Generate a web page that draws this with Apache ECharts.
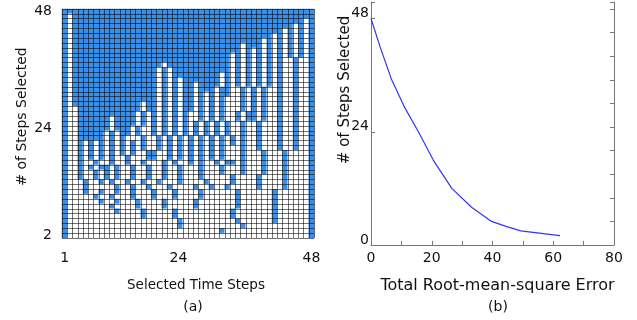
<!DOCTYPE html>
<html>
<head>
<meta charset="utf-8">
<script src="https://cdn.jsdelivr.net/npm/echarts@6/dist/echarts.min.js"></script>
<style>
html, body { margin: 0; padding: 0; background: #fff; }
#main { width: 637px; height: 320px; }
</style>
</head>
<body>
<div id="main"></div>
<script>
// time steps (columns) and step counts (rows) of panel (a)
var timeSteps = ['1','2','3','4','5','6','7','8','9','10','11','12','13','14','15','16',
    '17','18','19','20','21','22','23','24','25','26','27','28','29','30','31','32',
    '33','34','35','36','37','38','39','40','41','42','43','44','45','46','47','48'];
var stepCounts = ['2','3','4','5','6','7','8','9','10','11','12','13','14','15','16','17',
    '18','19','20','21','22','23','24','25','26','27','28','29','30','31','32','33',
    '34','35','36','37','38','39','40','41','42','43','44','45','46','47','48'];

// one string per row, 48 selected steps (top) down to 2 (bottom); 1 = selected
// (written as columns 1-17 | 18-33 | 34-48)
var selectedRows = [
    '11111111111111111' + '1111111111111111' + '111111111111111', // 48
    '10111111111111111' + '1111111111111111' + '111111111111111', // 47
    '10111111111111111' + '1111111111111111' + '111111111111101', // 46
    '10111111111111111' + '1111111111111111' + '111111111110101', // 45
    '10111111111111111' + '1111111111111111' + '111111111010101', // 44
    '10111111111111111' + '1111111111111111' + '111111101010101', // 43
    '10111111111111111' + '1111111111111111' + '111110101010101', // 42
    '10111111111111111' + '1111111111111111' + '101110101010101', // 41
    '10111111111111111' + '1111111111111111' + '101010101010101', // 40
    '10111111111111111' + '1111111111111110' + '101010101010101', // 39
    '10111111111111111' + '1111111111111110' + '101010101001001', // 38
    '10111111111111111' + '1101111111111110' + '101010101001001', // 37
    '10111111111111111' + '1010111111111110' + '101010101001001', // 36
    '10111111111111111' + '1010111111111010' + '101010101001001', // 35
    '10111111111111111' + '1010101111111010' + '101010101001001', // 34
    '10111111111111111' + '1010101101111010' + '101010101001001', // 33
    '10111111111111111' + '1010101101110110' + '010101001001001', // 32
    '10111111111111111' + '1010101101010110' + '010101001001001', // 31
    '10111111111111111' + '1010101101010100' + '010101001001001', // 30
    '10111111111111101' + '1010101101010100' + '010101001001001', // 29
    '10011111111111101' + '1010101101010100' + '010101001001001', // 28
    '10011111111111010' + '1010101001010100' + '101101001001001', // 27
    '10011111101111010' + '1010101001010100' + '101101001001001', // 26
    '10011111101111010' + '1010101010101010' + '010010001001001', // 25
    '10011111101110100' + '1010101010101010' + '010010001001001', // 24
    '10011111010110100' + '1010101010101010' + '010010001001001', // 23
    '10011111010100010' + '0101010101010101' + '010010001001001', // 22
    '10010101010101010' + '0101010101010101' + '010010001001001', // 21
    '10010101010101010' + '0101010101010100' + '010010001001001', // 20
    '10010101010101001' + '1001010101010100' + '010001000100001', // 19
    '10010101010010001' + '1001010101010100' + '010001000100001', // 18
    '10010010010010010' + '0010100101001011' + '010001000100001', // 17
    '10010101101001001' + '0010010001000100' + '010001000100001', // 16
    '10010010101001001' + '0010010001000100' + '010001000100001', // 15
    '10010010101001001' + '0010010001000001' + '000010000100001', // 14
    '10001001010010010' + '0100010000100001' + '000010000100001', // 13
    '10001000001001001' + '0001000010010010' + '000010000100001', // 12
    '10001001001001000' + '1000100001000000' + '100000010000001', // 11
    '10000010010001000' + '1000100001000000' + '100000010000001', // 10
    '10000001001000100' + '0010000010000000' + '100000010000001', // 9
    '10000000010000100' + '0010000010000000' + '100000010000001', // 8
    '10000000001000010' + '0000100000000001' + '000000010000001', // 7
    '10000000000000010' + '0000100000000001' + '000000010000001', // 6
    '10000000000000000' + '0000010000000000' + '100000010000001', // 5
    '10000000000000000' + '0000010000000000' + '010000000000001', // 4
    '10000000000000000' + '0000000000000100' + '000000000000001', // 3
    '10000000000000000' + '0000000000000000' + '000000000000001'  // 2
];

// panel (b): error against number of selected steps
var rmseValues = [0, 3.0, 6.8, 11.2, 15.6, 20.5, 26.6, 33.1, 39.7, 44.2, 49.3, 62.2];
var rmseSteps  = [48, 42, 35, 29, 24, 18, 12, 8, 5, 4, 3, 2];

var heatData = [];
for (var i = 0; i < selectedRows.length; i++) {
    var k = 48 - i;
    for (var j = 0; j < selectedRows[i].length; j++) {
        heatData.push([j, k - 2, +selectedRows[i].charAt(j)]);
    }
}
var lineData = [];
for (var p = 0; p < rmseValues.length; p++) {
    lineData.push([rmseValues[p], rmseSteps[p]]);
}

var font = 'DejaVu Sans';
var labelStyle = { fontFamily: font, fontSize: 14, color: '#111' };

var myChart = echarts.init(document.getElementById('main'));
var option = {
    animation: false,
    backgroundColor: '#fff',
    title: [
        { text: '(a)', left: 188, top: 295, textAlign: 'center',
          textStyle: { fontFamily: font, fontSize: 14, fontWeight: 'normal', color: '#111' } },
        { text: '(b)', left: 493, top: 295, textAlign: 'center',
          textStyle: { fontFamily: font, fontSize: 14, fontWeight: 'normal', color: '#111' } }
    ],
    grid: [
        { left: 62, top: 9, width: 252, height: 229 },
        { left: 371, top: 2, width: 243, height: 243 }
    ],
    visualMap: {
        show: false,
        type: 'piecewise',
        seriesIndex: 0,
        pieces: [
            { value: 0, color: '#ffffff' },
            { value: 1, color: '#3b8fe8' }
        ]
    },
    xAxis: [
        {
            type: 'category', gridIndex: 0, data: timeSteps, z: 5,
            axisLine: { show: false }, axisTick: { show: false },
            axisLabel: Object.assign({
                interval: 0, margin: 13,
                formatter: function (v) {
                    if (v === '24') return '{mid|24}';
                    return (v === '1' || v === '48') ? v : '';
                },
                rich: { mid: { fontFamily: font, fontSize: 14, color: '#111', padding: [0, 14, 0, 0] } }
            }, labelStyle),
            splitLine: { show: true, interval: 0, lineStyle: { color: 'rgba(0,0,0,0.55)', width: 1 } },
            name: 'Selected Time Steps', nameLocation: 'middle', nameGap: 40, nameMoveOverlap: false,
            nameTextStyle: { fontFamily: font, fontSize: 13.5, color: '#111', padding: [0, 0, 0, 16] }
        },
        {
            type: 'value', gridIndex: 1, min: 0, max: 80, interval: 10,
            axisLine: { lineStyle: { color: '#777' } },
            axisTick: { inside: true, length: 4, lineStyle: { color: '#777' } },
            axisLabel: Object.assign({
                margin: 6,
                formatter: function (v) { return v % 20 === 0 ? String(v) : ''; }
            }, labelStyle),
            splitLine: { show: false },
            name: 'Total Root-mean-square Error', nameLocation: 'middle', nameGap: 33, nameMoveOverlap: false,
            nameTextStyle: { fontFamily: font, fontSize: 16, color: '#111', padding: [0, 0, 0, 10] }
        }
    ],
    yAxis: [
        {
            type: 'category', gridIndex: 0, data: stepCounts, z: 5,
            axisLine: { show: false }, axisTick: { show: false },
            axisLabel: Object.assign({
                interval: 0, margin: 10,
                formatter: function (v) { return (v === '2' || v === '24' || v === '48') ? v : ''; }
            }, labelStyle),
            splitLine: { show: true, interval: 0, lineStyle: { color: 'rgba(0,0,0,0.55)', width: 1 } },
            name: '# of Steps Selected', nameLocation: 'middle', nameGap: 33, nameMoveOverlap: false,
            nameTextStyle: { fontFamily: font, fontSize: 14, color: '#111', padding: [0, 0, 0, 14] }
        },
        {
            type: 'value', gridIndex: 1, min: 0, max: 51.5, interval: 24,
            axisLine: { show: true, lineStyle: { color: '#777' } },
            axisTick: { show: true, inside: true, length: 4, lineStyle: { color: '#777' } },
            axisLabel: Object.assign({
                margin: 2, verticalAlign: 'bottom', lineHeight: 10,
                formatter: function (v) { return (v === 0 || v === 24 || v === 48) ? String(v) : ''; }
            }, labelStyle),
            splitLine: { show: false },
            name: '# of Steps Selected', nameLocation: 'middle', nameGap: 18, nameMoveOverlap: false,
            nameTextStyle: { fontFamily: font, fontSize: 15, color: '#111', padding: [0, 0, 0, 67] }
        },
        {
            type: 'value', gridIndex: 1, position: 'right', min: 0, max: 51.5, interval: 5,
            axisLine: { show: true, lineStyle: { color: '#777' } },
            axisTick: { show: true, inside: true, length: 4, lineStyle: { color: '#777' } },
            axisLabel: { show: false },
            splitLine: { show: false }
        }
    ],
    series: [
        {
            type: 'heatmap', xAxisIndex: 0, yAxisIndex: 0,
            data: heatData,
            itemStyle: { borderWidth: 0 },
            emphasis: { disabled: true }
        },
        {
            type: 'line', xAxisIndex: 1, yAxisIndex: 1,
            data: lineData,
            showSymbol: false, symbol: 'none',
            lineStyle: { color: '#3434ee', width: 1.2 }
        }
    ]
};
myChart.setOption(option);
</script>
</body>
</html>
